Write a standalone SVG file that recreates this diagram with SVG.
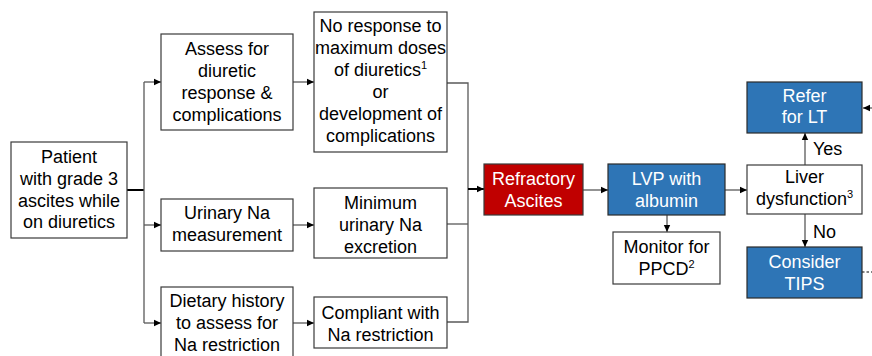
<svg xmlns="http://www.w3.org/2000/svg" width="872" height="356" viewBox="0 0 872 356">
<style>
text{font-family:"Liberation Sans",Arial,sans-serif;font-size:18px;text-anchor:middle;fill:#000}
.w{fill:#fff}
.sup{font-size:11px}
.box{fill:#fff;stroke:#3a3a3a;stroke-width:1.2}
.red{fill:#C00000;stroke:#3a3a3a;stroke-width:1.2}
.blue{fill:#2E75B6;stroke:#2a2a2a;stroke-width:1.2}
.ln{fill:none;stroke:#595959;stroke-width:1.3}
.thk{fill:none;stroke:#000;stroke-width:2}
.lbl{text-anchor:start}
</style>
<defs>
<marker id="ah" markerUnits="userSpaceOnUse" markerWidth="8" markerHeight="8" refX="7" refY="4" orient="auto">
<path d="M0,0.8 L7,4 L0,7.2 Z" fill="#000"/>
</marker>
</defs>
<rect width="872" height="356" fill="#fff"/>
<g id="connectors">
<path class="thk" d="M127,190 H144"/>
<path class="ln" d="M144,82 V323"/>
<path class="ln" d="M144,82 H161" marker-end="url(#ah)"/>
<path class="ln" d="M144,225 H161" marker-end="url(#ah)"/>
<path class="ln" d="M144,323 H161" marker-end="url(#ah)"/>
<path class="ln" d="M293,82 H314" marker-end="url(#ah)"/>
<path class="ln" d="M293,225 H314" marker-end="url(#ah)"/>
<path class="ln" d="M293,323 H314" marker-end="url(#ah)"/>
<path class="ln" d="M447,83 H468 V322 H447"/>
<path class="ln" d="M447,224 H468"/>
<path class="thk" d="M468,189 H484" stroke-width="1.6" marker-end="url(#ah)"/>
<path class="ln" d="M583,190 H608" marker-end="url(#ah)"/>
<path class="ln" d="M667,215 V232" stroke="#000" marker-end="url(#ah)"/>
<path class="ln" d="M725,190 H747" marker-end="url(#ah)"/>
<path class="ln" d="M805,165 V133" marker-end="url(#ah)"/>
<path class="ln" d="M805,214 V247" stroke="#000" marker-end="url(#ah)"/>
<path class="ln" d="M872,108 H863" stroke="#000" marker-end="url(#ah)"/>
<path class="ln" d="M862,272 H872" stroke="#000" stroke-dasharray="2.5,2"/>
<text class="lbl" x="813" y="155">Yes</text>
<text class="lbl" x="813" y="238">No</text>
</g>
<g id="patient">
<rect class="box" x="11" y="142" width="116" height="96"/>
<text x="69" y="163">Patient</text>
<text x="69" y="185">with grade 3</text>
<text x="69" y="207">ascites while</text>
<text x="69" y="228">on diuretics</text>
</g>
<g id="assess">
<rect class="box" x="161" y="34" width="132" height="96"/>
<text x="227" y="55">Assess for</text>
<text x="227" y="77">diuretic</text>
<text x="227" y="99">response &amp;</text>
<text x="227" y="121">complications</text>
</g>
<g id="urinary">
<rect class="box" x="161" y="199" width="132" height="52"/>
<text x="227" y="219">Urinary Na</text>
<text x="227" y="241">measurement</text>
</g>
<g id="dietary">
<rect class="box" x="161" y="287" width="132" height="80"/>
<text x="227" y="307">Dietary history</text>
<text x="227" y="329">to assess for</text>
<text x="227" y="351">Na restriction</text>
</g>
<g id="noresponse">
<rect class="box" x="314" y="12" width="133" height="140"/>
<text x="380.5" y="32">No response to</text>
<text x="380.5" y="54">maximum doses</text>
<text x="380.5" y="76">of diuretics<tspan class="sup" dy="-7">1</tspan></text>
<text x="380.5" y="98">or</text>
<text x="380.5" y="120">development of</text>
<text x="380.5" y="142">complications</text>
</g>
<g id="minimum">
<rect class="box" x="314" y="188" width="133" height="70"/>
<text x="380.5" y="209">Minimum</text>
<text x="380.5" y="231">urinary Na</text>
<text x="380.5" y="253">excretion</text>
</g>
<g id="compliant">
<rect class="box" x="314" y="297" width="133" height="51"/>
<text x="380.5" y="319">Compliant with</text>
<text x="380.5" y="341">Na restriction</text>
</g>
<g id="refractory">
<rect class="red" x="484" y="164" width="99" height="51"/>
<text class="w" x="533.5" y="185">Refractory</text>
<text class="w" x="533.5" y="207">Ascites</text>
</g>
<g id="lvp">
<rect class="blue" x="608" y="164" width="117" height="51"/>
<text class="w" x="666.5" y="185">LVP with</text>
<text class="w" x="666.5" y="207">albumin</text>
</g>
<g id="monitor">
<rect class="box" x="613" y="232" width="107" height="52"/>
<text x="666.5" y="253">Monitor for</text>
<text x="666.5" y="275">PPCD<tspan class="sup" dy="-7">2</tspan></text>
</g>
<g id="liver">
<rect class="box" x="747" y="165" width="115" height="49"/>
<text x="804.5" y="183">Liver</text>
<text x="804.5" y="205">dysfunction<tspan class="sup" dy="-7">3</tspan></text>
</g>
<g id="refer">
<rect class="blue" x="747" y="82" width="115" height="51"/>
<text class="w" x="804.5" y="102">Refer</text>
<text class="w" x="804.5" y="123">for LT</text>
</g>
<g id="tips">
<rect class="blue" x="747" y="247" width="115" height="51"/>
<text class="w" x="804.5" y="268">Consider</text>
<text class="w" x="804.5" y="290">TIPS</text>
</g>
</svg>
